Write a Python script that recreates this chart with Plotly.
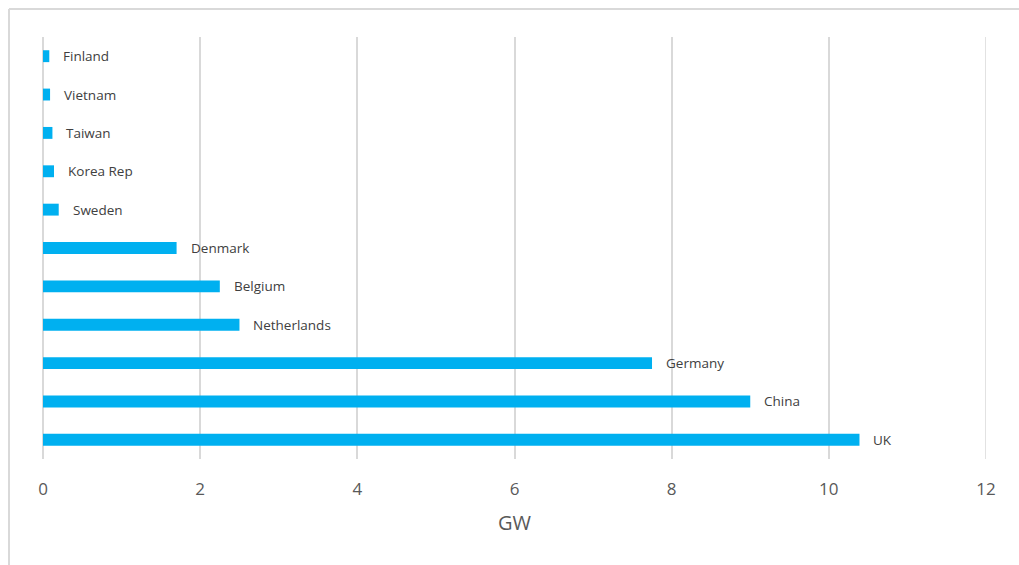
import plotly.graph_objects as go

countries = ["UK", "China", "Germany", "Netherlands", "Belgium", "Denmark",
             "Sweden", "Korea Rep", "Taiwan", "Vietnam", "Finland"]
capacity_gw = [10.39, 9.0, 7.75, 2.5, 2.25, 1.7, 0.2, 0.14, 0.12, 0.09, 0.08]
x_ticks = [0, 2, 4, 6, 8, 10, 12]

W, H = 1019, 565
L, R, T, B = 43, 33, 37, 106

fig = go.Figure()
fig.add_trace(go.Bar(
    x=capacity_gw, y=countries, orientation="h",
    marker=dict(color="#00B0F0", line=dict(width=0)),
    width=0.31, hoverinfo="x+y",
))

for c, v in zip(countries, capacity_gw):
    fig.add_annotation(x=v, y=c, text=c, showarrow=False, xanchor="left",
                       xshift=12, font=dict(size=13.5, color="#404040",
                                            family="Open Sans"))

pw = W - L - R
ph = H - T - B
def px_x(p):
    return (p - L) / pw
def px_y(p):
    return (H - B - p) / ph

border = dict(color="#d9d9d9", width=2)
fig.add_shape(type="line", xref="paper", yref="paper",
              x0=px_x(9), x1=px_x(W + 5), y0=px_y(9), y1=px_y(9), line=border)
fig.add_shape(type="line", xref="paper", yref="paper",
              x0=px_x(9), x1=px_x(9), y0=px_y(9), y1=px_y(H + 5), line=border)
# gridline at the right edge (x = 12)
fig.add_shape(type="line", xref="x", yref="paper",
              x0=x_ticks[-1], x1=x_ticks[-1], y0=0, y1=1,
              line=dict(color="#d9d9d9", width=1.5), layer="below")

fig.update_layout(
    width=W, height=H,
    margin=dict(l=L, r=R, t=T, b=B),
    paper_bgcolor="white", plot_bgcolor="white",
    showlegend=False,
    font=dict(family="Open Sans", color="#595959"),
    xaxis=dict(
        range=[0, 12], tickvals=x_ticks, showgrid=True,
        gridcolor="#d9d9d9", gridwidth=1.5, zeroline=True,
        zerolinecolor="#d9d9d9", zerolinewidth=1.5,
        showline=False, ticks="", ticklabelstandoff=18,
        tickfont=dict(size=17, color="#595959"),
        title=dict(text="GW", font=dict(size=20, color="#595959"), standoff=16),
        fixedrange=True,
    ),
    yaxis=dict(
        categoryorder="array", categoryarray=countries,
        range=[-0.5, 10.5], showticklabels=False, showgrid=False,
        zeroline=False, showline=False, ticks="", fixedrange=True,
    ),
)

fig.write_html("out.html")
